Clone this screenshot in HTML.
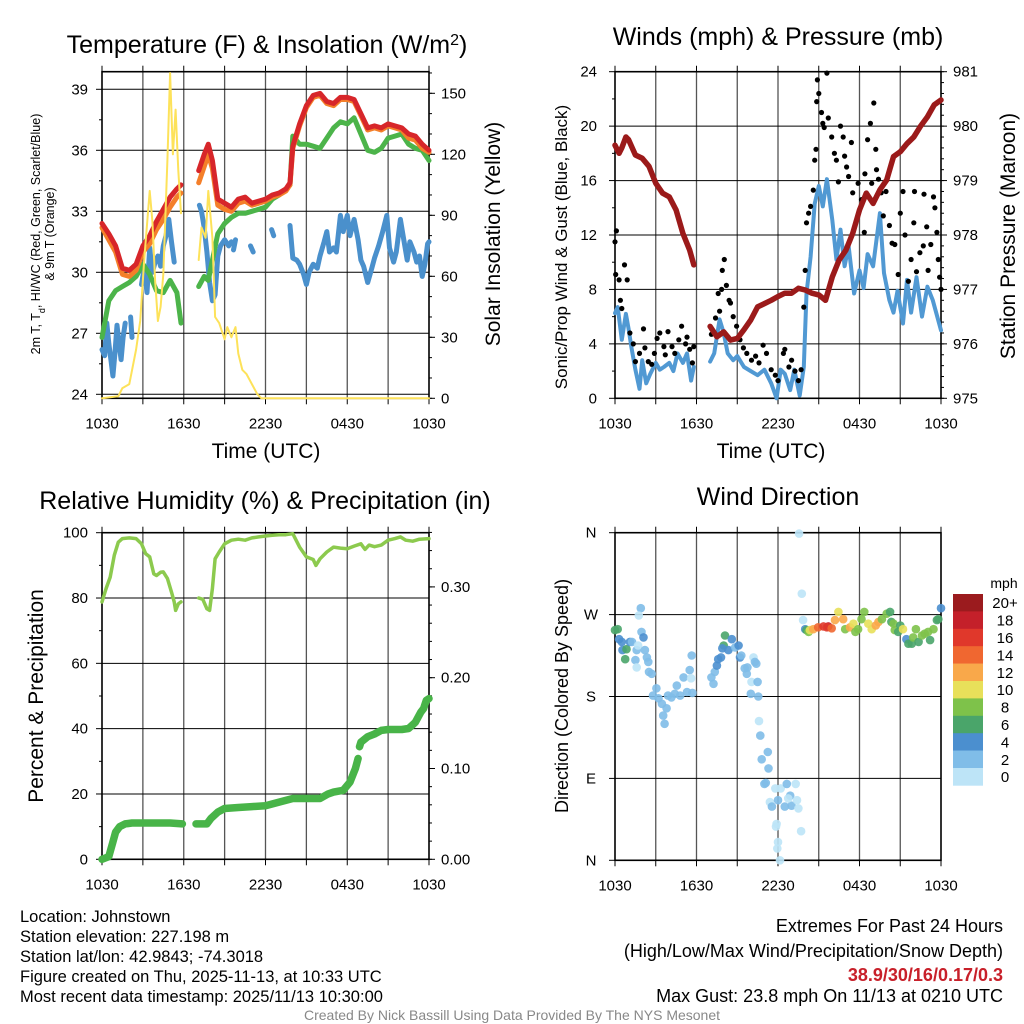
<!DOCTYPE html>
<html><head><meta charset="utf-8"><title>Mesonet Johnstown</title>
<style>
html,body{margin:0;padding:0;background:#fff;}
svg{display:block;font-family:"Liberation Sans",Arial,sans-serif;}
</style></head>
<body>
<svg id="chart" width="1024" height="1024" viewBox="0 0 1024 1024" xmlns="http://www.w3.org/2000/svg">
<rect x="0" y="0" width="1024" height="1024" fill="#fff"/>
<g id="panels"></g>
<!-- titles -->
<text x="267" y="53" font-size="25" text-anchor="middle">Temperature (F) &amp; Insolation (W/m<tspan baseline-shift="super" font-size="16">2</tspan>)</text>
<text x="778" y="45" font-size="25" text-anchor="middle">Winds (mph) &amp; Pressure (mb)</text>
<text x="265" y="509" font-size="25" text-anchor="middle">Relative Humidity (%) &amp; Precipitation (in)</text>
<text x="778" y="505" font-size="25" text-anchor="middle">Wind Direction</text>
<text x="266" y="458" font-size="21" text-anchor="middle">Time (UTC)</text>
<text x="771" y="458" font-size="21" text-anchor="middle">Time (UTC)</text>
<!-- y axis titles -->
<g transform="translate(40,234) rotate(-90)">
<text x="0" y="0" font-size="12.5" text-anchor="middle">2m T, T<tspan baseline-shift="sub" font-size="9">d</tspan>, HI/WC (Red, Green, Scarlet/Blue)</text>
<text x="0" y="14" font-size="12.5" text-anchor="middle">&amp; 9m T (Orange)</text>
</g>
<text transform="translate(500,234) rotate(-90)" font-size="21" text-anchor="middle">Solar Insolation (Yellow)</text>
<text transform="translate(567,247) rotate(-90)" font-size="17" text-anchor="middle">Sonic/Prop Wind &amp; Gust (Blue, Black)</text>
<text transform="translate(1015,236) rotate(-90)" font-size="21" text-anchor="middle">Station Pressure (Maroon)</text>
<text transform="translate(43,696) rotate(-90)" font-size="21" text-anchor="middle">Percent &amp; Precipitation</text>
<text transform="translate(568,696) rotate(-90)" font-size="18" text-anchor="middle">Direction (Colored By Speed)</text>
<!-- color bar -->
<g id="colorbar">
<text x="1004" y="588" font-size="14" text-anchor="middle">mph</text>
</g>
<!-- footer -->
<g font-size="16.5">
<text x="20" y="922">Location: Johnstown</text>
<text x="20" y="942">Station elevation: 227.198 m</text>
<text x="20" y="962">Station lat/lon: 42.9843; -74.3018</text>
<text x="20" y="982">Figure created on Thu, 2025-11-13, at 10:33 UTC</text>
<text x="20" y="1002">Most recent data timestamp: 2025/11/13 10:30:00</text>
</g>
<g font-size="18" text-anchor="end">
<text x="1003" y="932">Extremes For Past 24 Hours</text>
<text x="1003" y="957">(High/Low/Max Wind/Precipitation/Snow Depth)</text>
<text x="1003" y="981" fill="#c8202a" font-weight="bold">38.9/30/16/0.17/0.3</text>
<text x="1003" y="1002">Max Gust: 23.8 mph On 11/13 at 0210 UTC</text>
</g>
<text x="512" y="1020" font-size="14" fill="#888" text-anchor="middle">Created By Nick Bassill Using Data Provided By The NYS Mesonet</text>
</svg>
<script>
// ---------- data (hours since 1030 UTC) ----------
var xTickLabels = ["1030","1630","2230","0430","1030"];
var tempTicks = [24,27,30,33,36,39];
var solarTicks = [0,30,60,90,120,150];
var windTicks = [0,4,8,12,16,20,24];
var pressTicks = [975,976,977,978,979,980,981];
var rhTicks = [0,20,40,60,80,100];
var precipTicks = [0,0.1,0.2,0.3];
var precipTickLabels = ["0.00","0.10","0.20","0.30"];
var dirTicks = [0,90,180,270,360];
var dirTickLabels = ["N","E","S","W","N"];

var tHours = [0,0.5,1,1.5,2,2.5,3,3.5,4,4.5,5,5.5,5.8,6.5,7.1,7.5,7.8,8.1,8.5,9,9.5,10,10.5,11,11.5,12,12.5,13,13.5,13.8,14,14.5,15,15.5,16,16.5,17,17.5,18,18.5,19,19.5,20,20.5,21,21.5,22,22.5,23,23.5,24];
var tRed = [32.4,31.9,31.3,30.2,30.1,30.4,31.3,31.8,32.5,33.1,33.7,34.1,34.3,null,35.0,35.8,36.3,35.5,33.6,33.4,33.2,33.6,33.7,33.4,33.5,33.6,33.8,33.9,34.1,34.4,36.2,37.3,38.2,38.7,38.8,38.4,38.3,38.6,38.6,38.5,37.8,37.1,37.2,37.1,37.3,37.2,37.1,36.8,36.7,36.3,36.0];
var tOrange = [32.2,31.6,31.0,29.9,29.8,30.1,31.0,31.4,32.1,32.6,33.2,33.7,33.9,null,34.4,35.2,35.8,35.1,33.3,33.1,33.0,33.4,33.5,33.3,33.4,33.5,33.7,33.8,34.0,34.3,36.1,37.2,38.1,38.6,38.7,38.3,38.2,38.5,38.5,38.4,37.7,37.0,37.1,37.0,37.2,37.1,37.0,36.6,36.5,36.1,35.9];
var tGreen = [26.8,28.6,29.1,29.3,29.5,29.8,30.4,29.9,29.1,29.0,29.6,29.0,27.5,null,29.3,29.8,29.6,30.6,31.9,32.4,32.7,32.9,32.9,33.0,33.1,33.2,33.6,33.8,34.1,34.3,36.7,36.3,36.3,36.2,36.1,36.6,37.1,37.4,37.3,37.6,36.8,36.0,35.9,36.1,36.6,36.7,36.8,36.3,36.1,36.0,35.5];

var wcHours = [0,0.2,0.35,0.5,0.65,0.8,0.95,1.1,1.25,1.4,1.55,1.7,1.9,2.1,2.2,2.5,2.9,3.1,3.3,3.5,3.7,3.9,4.1,4.3,4.5,4.7,4.9,5.1,5.3,6.2,7.15,7.3,7.5,7.7,7.9,8.1,8.3,8.5,8.7,9.0,9.3,9.5,9.58,9.65,9.8,10.4,10.9,11.1,11.8,12.45,12.6,13.2,13.8,14.0,14.3,14.5,14.8,15.0,15.2,15.5,15.8,16.0,16.3,16.5,16.7,17.0,17.2,17.5,17.7,18.0,18.2,18.5,18.8,19.0,19.2,19.5,19.8,20.0,20.3,20.6,20.9,21.1,21.4,21.6,21.9,22.1,22.4,22.6,22.9,23.1,23.3,23.5,23.7,23.9,24];
var wcVals = [26.2,25.9,27.5,26.5,25.7,24.9,26.0,27.4,26.5,25.7,26.8,27.5,null,27.8,26.8,null,29.4,30.2,29.0,31.2,30.0,30.5,30.8,30.3,31.3,31.8,32.6,31.5,30.5,null,33.3,33.0,32.2,31.0,29.5,28.6,28.9,30.8,31.3,31.6,31.3,31.5,null,31.1,31.6,null,31.3,31.0,null,32.1,31.8,null,32.3,30.7,30.6,30.4,29.9,29.4,30.0,30.4,30.2,30.8,31.5,32.0,31.0,31.2,31.0,32.8,32.0,32.8,31.8,32.6,31.6,30.6,30.3,29.5,30.2,30.7,31.3,32.0,32.8,31.2,30.5,31.0,32.6,31.8,30.6,31.5,31.0,30.5,30.8,29.8,30.4,31.4,31.5];

var solarHours = [0,1.2,1.5,2,2.5,2.8,3.1,3.5,3.7,3.9,4.1,4.3,4.5,4.8,5.0,5.2,5.4,5.6,5.8,6.5,7.1,7.3,7.6,7.8,8.1,8.3,8.6,9,9.2,9.5,9.8,10,10.3,10.6,11,11.4,11.7,24];
var solarVals = [0,1,5,7,24,38,68,102,87,58,38,45,61,117,160,120,142,112,91,null,68,84,79,102,79,40,37,29,35,30,35,22,14,12,7,2,0,0];

var pHours = [0,0.3,0.5,0.8,1,1.5,2,2.5,3,3.5,4,4.5,5,5.5,5.8,6.5,7,7.5,8,8.5,9,9.5,10,10.5,11,11.5,12,12.5,13,13.5,14,14.5,15,15.5,16,16.5,17,17.5,18,18.5,19,19.5,20,20.5,21,21.5,22,22.5,23,23.5,24];
var pVals = [979.65,979.5,979.6,979.8,979.75,979.47,979.41,979.26,978.95,978.77,978.7,978.46,978.03,977.72,977.45,null,976.32,976.13,976.22,976.07,976.1,976.26,976.44,976.68,976.74,976.8,976.87,976.93,976.93,977.02,976.99,976.93,976.9,976.8,977.23,977.54,977.72,978.03,978.46,978.77,978.58,978.83,979.01,979.44,979.53,979.68,979.8,980.0,980.17,980.39,980.48];

var windHours = [0,0.2,0.5,0.8,1,1.2,1.5,1.8,2,2.3,2.6,3,3.3,3.6,4,4.3,4.6,5,5.3,5.6,5.8,6.5,7,7.3,7.7,8,8.3,8.7,9,9.5,10,10.5,11,11.5,11.9,12.2,12.5,12.9,13.2,13.6,13.9,14.1,14.4,14.7,15,15.3,15.6,16,16.3,16.6,16.9,17.2,17.6,18,18.3,18.6,19,19.5,19.8,20.2,20.5,20.8,21.2,21.5,21.8,22.2,22.6,23,23.4,24];
var windVals = [6.25,6.7,4.3,6.2,5.1,3.8,2.1,0.7,2.8,1.1,1.8,2.6,2.1,2.3,2.6,2.0,3.3,2.6,3.3,1.3,2.3,null,2.7,3.3,5.8,4.8,3.3,2.8,3.1,2.3,2.0,1.7,2.1,1.1,0.0,2.1,1.8,0.6,2.1,0.2,2.3,7.7,10.4,14.3,15.6,14.1,16.1,13.1,10.2,12.4,9.7,11.2,7.7,9.4,8.1,10.6,9.7,13.6,9.2,7.2,6.3,7.9,5.5,8.7,6.3,8.9,6.0,8.2,7.2,5.0];

var gustHours = [0,0.1,0.05,0.3,0.7,0.9,0.4,0.5,1.1,1.35,1.5,1.8,2.2,2.1,2.45,2.7,2.9,3.1,3.3,3.6,3.7,3.9,4.2,4.4,4.7,4.9,5.2,5.3,5.5,5.7,5.8,7.1,7.4,7.6,7.7,7.85,7.9,8.05,8.2,8.4,8.5,8.7,8.95,9.2,9.45,9.7,10.05,10.35,10.6,10.9,11.15,11.5,11.8,12.0,12.4,12.5,12.8,13.0,13.25,13.5,13.7,13.9,14.0,14.1,14.25,14.4,14.6,14.7,14.8,14.85,14.9,15.0,15.2,15.3,15.4,15.6,15.7,15.95,16.15,16.3,16.45,16.6,16.8,16.9,17.05,17.2,17.4,17.5,17.9,18.15,18.35,18.4,18.6,18.8,18.9,19.05,19.2,19.25,19.4,19.6,19.75,19.95,20.2,20.4,20.6,20.85,21.0,21.2,21.35,21.6,21.8,22.0,22.05,22.2,22.45,22.7,22.75,22.95,23.05,23.25,23.45,23.55,23.7,23.8,23.9,24.0];
var gustVals = [11.5,12.3,9.1,8.7,9.8,8.7,7.2,6.6,4.8,4.0,2.7,3.3,3.7,5.1,2.7,2.5,3.3,4.4,4.8,3.8,3.2,4.9,3.8,3.3,4.3,5.3,4.0,4.5,3.6,2.6,3.8,4.7,5.9,7.7,6.4,8.0,9.4,10.2,8.3,7.2,7.0,6.0,5.3,4.3,3.7,3.3,2.8,3.1,2.6,3.9,3.3,2.1,1.7,1.3,3.3,3.6,2.3,2.8,2.0,1.3,2.1,6.7,9.4,12.9,13.6,14.1,15.3,17.5,18.3,21.8,23.4,22.4,21.0,20.2,19.9,23.9,20.6,19.2,18.0,17.5,15.9,20.0,19.2,17.8,17.0,16.3,18.8,15.1,15.8,14.6,12.2,16.5,19.0,20.2,15.8,21.7,18.3,16.8,16.1,15.1,13.4,15.2,12.7,11.4,11.3,9.1,13.6,15.2,12.0,8.6,10.2,12.9,15.2,9.3,10.7,11.2,15.0,12.6,9.4,11.3,14.8,14.0,12.2,10.2,8.9,8.0];

var rhHours = [0,0.3,0.6,0.9,1.2,1.5,2,2.5,2.9,3.2,3.5,3.8,4,4.3,4.5,4.8,5.1,5.3,5.4,5.6,5.8,6.5,7.1,7.4,7.7,7.9,8.1,8.3,8.6,9,9.5,10,10.5,11,11.5,12,12.5,13,13.5,14,14.5,15,15.5,15.7,16,16.5,17,17.5,18,18.5,19,19.3,19.6,20,20.5,21,21.5,21.9,22.3,22.8,23.3,24];
var rhVals = [78.8,82.9,86.4,93.1,97.1,98.2,98.4,98.2,96.6,93.6,92.6,87.4,86.9,87.9,88,86,81.8,78.8,76.2,78.2,78.8,null,80,79.6,76.7,76.2,82.9,92,94.1,96.6,97.7,98,97.7,98.4,98.7,99,99.2,99.4,99.4,99.7,95.6,92.6,91.8,90,92,94.1,95.6,95.3,95.1,95.9,96.6,94.9,96.2,95.7,96.2,97.7,98.2,98.7,97.7,97.4,98,98.2];

var precipHours = [0,0.5,0.8,1,1.3,1.7,2.2,3,5,5.9,6.4,6.9,7.7,8,8.5,9,10,11,12,13,14,15,16,16.6,17,17.7,18.2,18.6,18.8,18.85,18.9,19,19.5,20,20.5,21,21.5,22,22.5,23,23.4,23.6,23.8,24];
var precipVals = [0.0,0.003,0.019,0.030,0.036,0.039,0.040,0.040,0.040,0.039,null,0.039,0.039,0.045,0.052,0.056,0.057,0.058,0.059,0.063,0.067,0.067,0.067,0.072,0.074,0.076,0.085,0.100,0.111,null,0.124,0.129,0.135,0.138,0.142,0.143,0.143,0.143,0.144,0.151,0.162,0.166,0.175,0.177];

var dirHours = [0,0.2,0.3,0.5,0.55,0.85,0.75,1.1,1.25,1.6,1.7,1.5,1.6,1.9,1.75,1.95,2.1,2.2,2.35,2.45,2.5,2.7,2.8,3.05,3.2,3.45,3.55,3.65,3.8,3.9,4.15,4.4,4.55,4.8,5.05,5.3,5.5,5.6,5.65,5.7,7.1,7.25,7.35,7.5,7.6,7.8,8.0,8.1,7.9,8.35,8.6,8.85,9.1,9.2,9.3,9.55,9.7,9.75,10.2,10.3,10.4,10.05,10.5,10.0,10.55,10.6,10.7,11.25,10.8,11.3,11.0,11.1,11.8,11.4,11.55,12.0,12.2,12.65,12.9,13.0,12.5,12.75,13.3,13.4,13.5,13.7,11.9,11.85,12.0,11.95,12.15,13.55,13.75,13.85,14.0,14.1,14.25,14.35,14.6,14.95,15.35,15.7,15.6,15.95,16.2,16.45,16.8,16.95,17.3,17.55,17.7,17.9,18.15,18.35,18.65,18.9,19.2,19.4,19.65,20.0,20.25,20.35,20.5,20.6,20.85,21.0,21.2,21.45,21.6,21.85,21.95,22.15,22.35,22.6,22.8,23.05,23.2,23.45,23.7,23.8,24.0];
var dirDeg = [253,254,243,240,231,232,221,240,240,231,236,220,212,277,269,251,245,231,223,218,207,205,181,189,178,172,159,150,167,181,179,183,192,181,201,185,209,200,225,184,201,194,207,214,221,223,236,247,233,231,243,234,236,223,225,211,205,212,223,218,216,196,196,183,180,153,137,119,111,101,84,85,79,64,59,66,79,84,71,60,59,68,84,66,57,32,40,37,20,13,0,359,293,264,254,253,251,253,254,256,257,257,256,255,264,273,265,254,256,260,251,254,265,273,260,254,258,262,265,271,273,262,260,253,251,258,254,243,238,238,245,254,240,247,249,251,242,254,264,265,277];
var dirSpeed = [6,6,4,4,4,6,6,4,3,2,1,2,0,2,0,2,4,2,2,2,2,2,2,2,2,2,2,2,2,2,2,2,2,2,2,2,2,1,2,2,2,2,2,4,4,4,6,6,4,4,4,2,4,4,2,2,2,2,1,2,2,1,2,2,2,1,2,2,2,2,2,2,1,1,2,2,1,2,2,2,2,1,1,1,1,1,1,1,1,1,1,1,1,1,4,6,8,10,12,14,16,18,16,14,12,10,12,8,12,10,8,8,8,8,10,10,12,12,8,8,6,6,8,8,6,6,10,4,6,6,8,8,6,8,8,8,6,8,6,6,4];

var barLabels = ["20+","18","16","14","12","10","8","6","4","2","0"];
var barColors = ["#9b1b1e","#c4202a","#e0382b","#f06730","#f9a84a","#e8e05a","#7ec24a","#4aa56a","#4b8fcf","#80bde8","#bde4f7"];
</script>
<script>
(function(){
var NS = "http://www.w3.org/2000/svg";
var root = document.getElementById("panels");
function mk(tag, attrs, parent){
  var e = document.createElementNS(NS, tag);
  for (var k in attrs) e.setAttribute(k, attrs[k]);
  (parent||root).appendChild(e);
  return e;
}
function xScale(P){ return function(h){ return P.x0 + (h/24)*(P.x1-P.x0); }; }
function linScale(y0, v0, y1, v1){ return function(v){ return y0 + (v-v0)*(y1-y0)/(v1-v0); }; }

var P1 = {x0:102, x1:429, y0:71.7, y1:398.3};
var P2 = {x0:615, x1:941, y0:71.7, y1:398.3};
var P3 = {x0:102, x1:429, y0:532.7, y1:859.3};
var P4 = {x0:615, x1:941, y0:532.7, y1:860.3};

var yTemp = linScale(394.3, 24, 89.3, 39);
var ySolar = linScale(398.3, 0, 337.3, 30);
var yWind = linScale(398.3, 0, 71.7, 24);
var yPress = linScale(398.3, 975, 71.7, 981);
var yRH = linScale(859.3, 0, 532.7, 100);
var yPrecip = linScale(859.3, 0, 768.5, 0.1);
var yDir = linScale(860.3, 0, 532.7, 360);

function frameAndGrid(P, name, leftMajor, leftMinor, yL, gridLeft){
  var g = mk("g", {});
  
  
  var xs = xScale(P);
  for (var h=3; h<24; h+=3){
    var l = mk("line", {x1:xs(h), x2:xs(h), y1:P.y0, y2:P.y1, stroke:"#555", "stroke-width":1.3}, g);
    
    
  }
  for (var h2=0; h2<=24; h2+=3){
    mk("line", {x1:xs(h2), x2:xs(h2), y1:P.y0-6, y2:P.y0, stroke:"#000", "stroke-width":1}, g);
    mk("line", {x1:xs(h2), x2:xs(h2), y1:P.y1, y2:P.y1+6, stroke:"#000", "stroke-width":1}, g);
  }
  leftMajor.forEach(function(v){
    var y = yL(v);
    if (gridLeft) {
      var hl = mk("line", {x1:P.x0, x2:P.x1, y1:y, y2:y, stroke:"#000", "stroke-width":1}, g);
      
      
    }
    mk("line", {x1:P.x0-6, x2:P.x0, y1:y, y2:y, stroke:"#000", "stroke-width":1}, g);
  });
  leftMinor.forEach(function(v){
    var y = yL(v);
    mk("line", {x1:P.x0-3, x2:P.x0, y1:y, y2:y, stroke:"#000", "stroke-width":1}, g);
  });
  var fr = mk("rect", {x:P.x0, y:P.y0, width:P.x1-P.x0, height:P.y1-P.y0, fill:"none", stroke:"#000", "stroke-width":1.6}, g);
  
  
  xTickLabels.forEach(function(lab, i){
    var t = mk("text", {x:xs(i*6), y:P.y1+30, "font-size":15, "text-anchor":"middle"}, g);
    t.textContent = lab;
    
    
  });
  return g;
}
function leftLabels(P, name, vals, labels, yfn, xpos, anchor){
  vals.forEach(function(v, i){
    var t = mk("text", {x:xpos, y:yfn(v)+5, "font-size":15, "text-anchor":anchor});
    t.textContent = labels ? labels[i] : String(v);
    
    
  });
}
function rightAxis(P, name, major, minor, yfn, labels){
  minor.forEach(function(v){
    var y = yfn(v);
    var m = mk("line", {x1:P.x1, x2:P.x1+3, y1:y, y2:y, stroke:"#000", "stroke-width":1});
    
    
  });
  major.forEach(function(v, i){
    var y = yfn(v);
    mk("line", {x1:P.x1, x2:P.x1+6, y1:y, y2:y, stroke:"#000", "stroke-width":1});
    var t = mk("text", {x:P.x1+12, y:y+5, "font-size":15});
    t.textContent = labels ? labels[i] : String(v);
    
    
  });
}
function range(a, b, s){ var r=[]; for (var v=a; v<=b+1e-9; v+=s) r.push(+v.toFixed(4)); return r; }

function series(P, hours, vals, yfn, color, width, name){
  var xs = xScale(P);
  var d = "", pen = false;
  for (var i=0;i<hours.length;i++){
    var v = vals[i];
    if (v === null || v === undefined){ pen = false; continue; }
    d += (pen ? "L" : "M") + xs(hours[i]).toFixed(1) + "," + yfn(v).toFixed(1);
    pen = true;
  }
  var p = mk("path", {d:d, fill:"none", stroke:color, "stroke-width":width, "stroke-linejoin":"round", "stroke-linecap":"round"});
  
  
  return p;
}
function dots(P, hours, vals, yfn, colorFn, r, name, op){
  var xs = xScale(P);
  var g = mk("g", {});
  
  
  for (var i=0;i<hours.length;i++){
    var c = mk("circle", {cx:xs(hours[i]).toFixed(1), cy:yfn(vals[i]).toFixed(1), r:r, fill:colorFn(i), "fill-opacity":op}, g);
    
    
  }
}

frameAndGrid(P1, "temp", tempTicks, range(25.5,39,3), yTemp, true);
leftLabels(P1, "temp-y", tempTicks, null, yTemp, 88, "end");
rightAxis(P1, "solar", solarTicks, range(0,160,10), ySolar, null);
series(P1, wcHours, wcVals, yTemp, "#4a90cc", 5, "windchill-line");
series(P1, tHours, tGreen, yTemp, "#4cb44a", 5, "green-temp-line");
series(P1, tHours, tOrange, yTemp, "#f47f2a", 5, "9m-temp-line");
series(P1, tHours, tRed, yTemp, "#d7262a", 5, "2m-temp-line");
series(P1, solarHours, solarVals, ySolar, "#fde25a", 2, "insolation-line");

frameAndGrid(P2, "wind", windTicks, range(2,22,4), yWind, true);
leftLabels(P2, "wind-y", windTicks, null, yWind, 597, "end");
rightAxis(P2, "pressure", pressTicks, range(975,981,0.2), yPress, null);
series(P2, windHours, windVals, yWind, "#5199d3", 4, "wind-speed-line");
dots(P2, gustHours, gustVals, yWind, function(){ return "#000"; }, 2.6, "gust-dot", 1);
series(P2, pHours, pVals, yPress, "#9b1a1a", 5.5, "pressure-line");

frameAndGrid(P3, "rh", rhTicks, range(10,90,20), yRH, true);
leftLabels(P3, "rh-y", rhTicks, null, yRH, 88, "end");
rightAxis(P3, "precip", precipTicks, range(0,0.36,0.02), yPrecip, precipTickLabels);
series(P3, rhHours, rhVals, yRH, "#8cca4e", 3.5, "humidity-line");
series(P3, precipHours, precipVals, yPrecip, "#48b448", 7.5, "precip-line");

frameAndGrid(P4, "dir", dirTicks, [], yDir, true);
leftLabels(P4, "dir-y", dirTicks, dirTickLabels, yDir, 591, "middle");
function speedColor(i){
  var s = dirSpeed[i];
  var idx = Math.min(10, Math.floor(s/2));
  return barColors[10-idx];
}
dots(P4, dirHours, dirDeg, yDir, speedColor, 4.3, "direction-dot", 0.9);

var cb = document.getElementById("colorbar");
var boxH = 17.4;
barColors.forEach(function(c, i){
  var r = mk("rect", {x:953, y:594+i*boxH, width:30, height:boxH+0.3, fill:c}, cb);
  
  
  var t = mk("text", {x:1005, y:594+i*boxH+boxH/2+5.5, "font-size":15, "text-anchor":"middle"}, cb);
  t.textContent = barLabels[i];
  
  
});
})();
</script>
</body></html>
